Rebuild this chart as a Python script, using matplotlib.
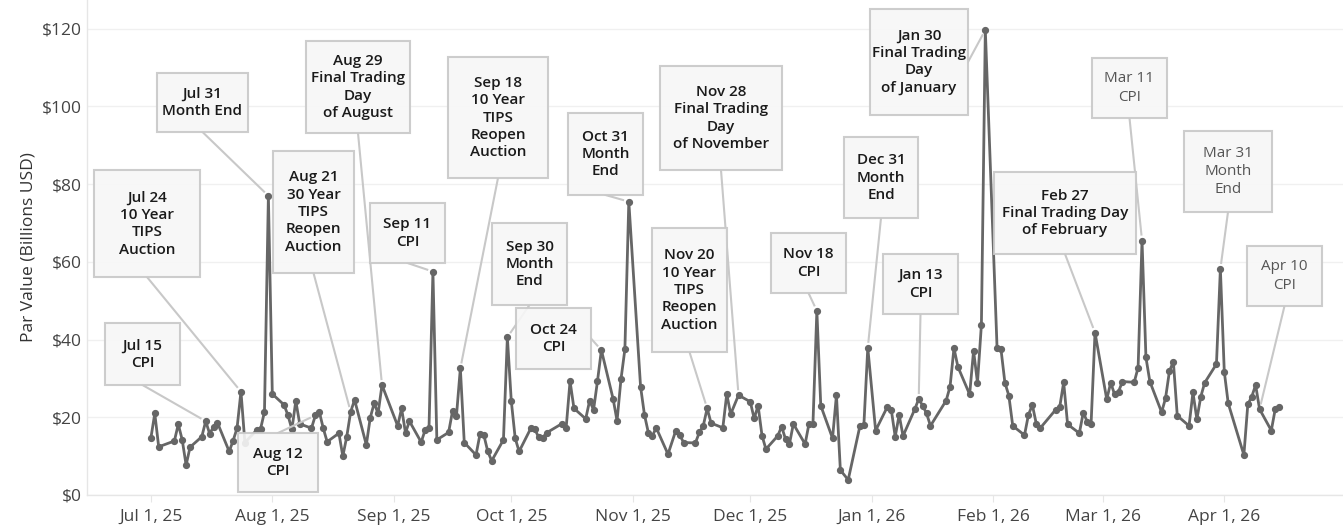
import numpy as np
import pandas as pd
import matplotlib
matplotlib.use("Agg")
import matplotlib.pyplot as plt
import matplotlib.dates as mdates
from matplotlib.patches import Rectangle
from matplotlib.lines import Line2D

# CONFIG
W, H = 1343, 529
FONT = "Open Sans"
LINE_COLOR = "#666666"
BOX_FC = "#f7f7f7"
BOX_EC = "#c8c8c8"
plt.rcParams["font.family"] = [FONT, "DejaVu Sans"]

# DATA - bond market trading days, Jul 1 2025 .. Apr 15 2026
HOLIDAYS = ["2025-07-04", "2025-09-01", "2025-10-13", "2025-11-11", "2025-11-27",
            "2025-12-25", "2026-01-01", "2026-01-19", "2026-02-16", "2026-04-03"]
dates = pd.bdate_range("2025-07-01", "2026-04-15")
dates = dates[~dates.isin(pd.to_datetime(HOLIDAYS))]

# par value traded, billions USD (read per month)
par_jul = [14.6, 21.0, 12.4, 13.9, 18.2, 14.2, 7.7, 12.3, 15.0, 19.0, 15.8, 17.5,
           18.6, 11.2, 14.0, 17.2, 26.6, 13.5, 16.7, 17.0, 21.4, 77.0]
par_aug = [26.0, 23.2, 20.5, 16.9, 24.2, 18.3, 17.2, 20.5, 21.4, 17.2, 13.7, 15.9,
           10.0, 15.0, 21.4, 24.5, 12.9, 19.9, 23.6, 21.0, 28.3]
par_sep = [17.8, 22.3, 16.0, 19.0, 13.6, 16.7, 17.3, 57.5, 14.2, 16.1, 21.6, 20.3,
           32.6, 13.5, 10.3, 15.6, 15.4, 11.2, 8.8, 14.2, 40.6]
par_oct = [24.2, 14.6, 11.2, 17.2, 17.0, 14.8, 14.7, 16.0, 18.4, 17.2, 29.3, 22.3,
           19.6, 24.3, 21.9, 29.3, 37.3, 24.7, 19.1, 29.8, 37.5, 75.5]
par_nov = [27.9, 20.6, 16.0, 15.2, 17.3, 10.5, 16.6, 15.4, 13.5, 13.4, 16.1, 17.8,
           22.3, 18.5, 17.3, 26.0, 20.8, 25.7]
par_dec = [24.0, 19.7, 23.0, 15.3, 11.8, 15.2, 17.6, 14.4, 13.1, 18.3, 13.1, 18.4,
           18.2, 47.4, 23.0, 14.6, 25.7, 6.4, 3.9, 17.8, 18.0, 37.9]
par_jan = [16.6, 22.7, 21.9, 15.0, 20.6, 15.2, 22.1, 24.7, 23.0, 21.0, 17.8, 24.3,
           27.9, 37.8, 33.0, 25.9, 37.1, 28.9, 43.8, 119.7]
par_feb = [37.8, 37.5, 28.9, 25.6, 17.8, 15.4, 20.6, 23.2, 18.4, 17.2, 22.0, 22.7,
           29.0, 18.2, 15.9, 21.2, 18.9, 18.4, 41.8]
par_mar = [24.6, 28.9, 25.9, 26.6, 29.2, 29.0, 32.8, 65.5, 35.4, 29.2, 21.3, 24.9,
           31.9, 34.3, 20.4, 17.8, 26.4, 19.5, 25.3, 28.9, 33.7, 58.2]
par_apr = [31.7, 23.6, 10.3, 23.3, 25.3, 28.3, 22.1, 16.6, 22.1, 22.6]

par_value = (par_jul + par_aug + par_sep + par_oct + par_nov + par_dec
             + par_jan + par_feb + par_mar + par_apr)
series = pd.Series(par_value, index=dates)

Y_TICKS = [0, 20, 40, 60, 80, 100, 120]
X_TICKS = pd.date_range("2025-07-01", "2026-04-01", freq="MS")

# annotations: text, date pointed at, box (left, top, right, bottom) in px, edge the leader leaves from
NOTES = [
    ("Jul 15\nCPI", "2025-07-15", (105, 323, 180, 385), "b"),
    ("Jul 24\n10 Year\nTIPS\nAuction", "2025-07-24", (94, 170, 200, 277), "b"),
    ("Jul 31\nMonth End", "2025-07-31", (157, 73, 248, 132), "b"),
    ("Aug 12\nCPI", "2025-08-12", (238, 433, 318, 492), "t"),
    ("Aug 21\n30 Year\nTIPS\nReopen\nAuction", "2025-08-21", (273, 151, 354, 273), "b"),
    ("Aug 29\nFinal Trading\nDay\nof August", "2025-08-29", (306, 41, 410, 133), "b"),
    ("Sep 11\nCPI", "2025-09-11", (370, 203, 445, 263), "b"),
    ("Sep 18\n10 Year\nTIPS\nReopen\nAuction", "2025-09-18", (448, 57, 548, 178), "b"),
    ("Sep 30\nMonth\nEnd", "2025-09-30", (492, 223, 567, 305), "b"),
    ("Oct 24\nCPI", "2025-10-24", (516, 308, 591, 369), "r"),
    ("Oct 31\nMonth\nEnd", "2025-10-31", (568, 113, 643, 195), "b"),
    ("Nov 20\n10 Year\nTIPS\nReopen\nAuction", "2025-11-20", (652, 228, 727, 352), "b"),
    ("Nov 28\nFinal Trading\nDay\nof November", "2025-11-28", (660, 66, 782, 170), "b"),
    ("Nov 18\nCPI", "2025-12-18", (771, 233, 846, 293), "b"),
    ("Dec 31\nMonth\nEnd", "2025-12-31", (844, 137, 918, 218), "b"),
    ("Jan 13\nCPI", "2026-01-13", (883, 254, 958, 314), "b"),
    ("Jan 30\nFinal Trading\nDay\nof January", "2026-01-30", (870, 9, 968, 115), "r"),
    ("Feb 27\nFinal Trading Day\nof February", "2026-02-27", (994, 172, 1136, 254), "b"),
    ("Mar 11\nCPI", "2026-03-11", (1092, 58, 1167, 118), "b"),
    ("Mar 31\nMonth\nEnd", "2026-03-31", (1184, 131, 1272, 212), "b"),
    ("Apr 10\nCPI", "2026-04-10", (1247, 246, 1322, 306), "b"),
]
# the latest notes are printed lighter in the original
LIGHT_NOTES = ["2026-03-11", "2026-03-31", "2026-04-10"]


def fig_xy(x, y):
    # pixel from top-left -> figure fraction
    return x / W, 1 - y / H


fig = plt.figure(figsize=(W / 100, H / 100), dpi=100)
ax = fig.add_axes([87 / W, 34 / H, (W - 87) / W, 495 / H])

ax.plot(series.index, series.values, color=LINE_COLOR, lw=2.0, marker="o",
        markersize=4.2, zorder=3)

x0 = mdates.date2num(pd.Timestamp("2025-07-01"))
ax.set_xlim(x0 - 16.3, x0 + 304.3)
ax.set_ylim(0, 127.4)

ax.set_yticks(Y_TICKS)
ax.set_yticklabels([f"${v}" for v in Y_TICKS])
ax.set_xticks(X_TICKS)
ax.set_xticklabels([f"{d:%b} {d.day}, {d:%y}" for d in X_TICKS])

ax.grid(axis="y", color="#f0f0f0", lw=1)
ax.set_axisbelow(True)
for s in ["top", "right"]:
    ax.spines[s].set_visible(False)
for s in ["left", "bottom"]:
    ax.spines[s].set_color("#e6e6e6")
    ax.spines[s].set_linewidth(1)
ax.tick_params(axis="x", length=5, color="#e6e6e6", labelsize=12.5,
               labelcolor="#444444", pad=5)
ax.tick_params(axis="y", length=0, labelsize=12.5, labelcolor="#444444", pad=4)

fig.text(29 / W, 1 - 247 / H, "Par Value (Billions USD)", rotation=90,
         ha="center", va="center", fontsize=12.5, color="#333333")

# annotations
for text, day, (bx0, by0, bx1, by1), edge in NOTES:
    tx, ty = ax.transData.transform((mdates.date2num(pd.Timestamp(day)), series[day]))
    ty = H - ty  # to top-left pixels
    if edge == "b":
        sx, sy = (bx0 + bx1) / 2, by1
    elif edge == "t":
        sx, sy = (bx0 + bx1) / 2, by0
    elif edge == "r":
        sx, sy = bx1, (by0 + by1) / 2
    else:
        sx, sy = bx0, (by0 + by1) / 2
    dx, dy = sx - tx, sy - ty
    dist = np.hypot(dx, dy)
    ex, ey = tx + dx / dist * 6, ty + dy / dist * 6
    p1, p2 = fig_xy(sx, sy), fig_xy(ex, ey)
    fig.add_artist(Line2D([p1[0], p2[0]], [p1[1], p2[1]], transform=fig.transFigure,
                          color=BOX_EC, lw=1.5, zorder=4))
    fig.add_artist(Rectangle(fig_xy(bx0, by1), (bx1 - bx0) / W, (by1 - by0) / H,
                             transform=fig.transFigure, facecolor=BOX_FC, alpha=0.9,
                             edgecolor=BOX_EC, lw=1.5, zorder=5))
    cx, cy = fig_xy((bx0 + bx1) / 2, (by0 + by1) / 2)
    light = day in LIGHT_NOTES
    fig.text(cx, cy, text, ha="center", va="center", fontsize=11,
             color="#555555" if light else "#1a1a1a",
             fontweight="normal" if light else "semibold", linespacing=1.3, zorder=6)

fig.savefig("out.png", dpi=100)
